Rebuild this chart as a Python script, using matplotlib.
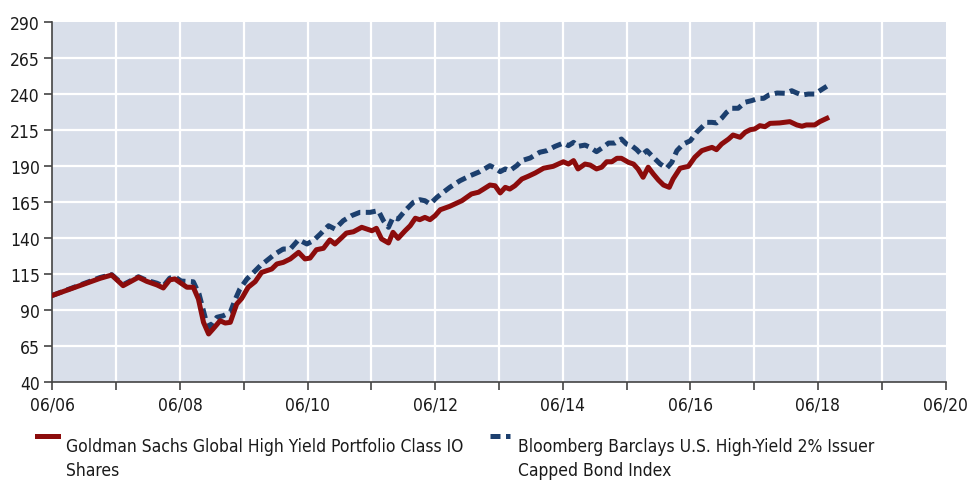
import matplotlib
matplotlib.use("Agg")
import matplotlib.pyplot as plt
from matplotlib.lines import Line2D

plt.rcParams['font.family'] = ['DejaVu Sans']
plt.rcParams['font.stretch'] = 'condensed'

# years since 06/2006
gs_t = [0.00, 0.75, 0.93, 1.11, 1.35, 1.48, 1.64, 1.74, 1.84, 1.92, 2.11, 2.21, 2.29, 2.37,
        2.45, 2.52, 2.63, 2.71, 2.79, 2.89, 2.97, 3.07, 3.18, 3.28, 3.36, 3.44, 3.52, 3.62,
        3.73, 3.86, 3.96, 4.04, 4.14, 4.25, 4.35, 4.43, 4.54, 4.61, 4.72, 4.85, 5.01, 5.08,
        5.16, 5.27, 5.34, 5.42, 5.53, 5.61, 5.69, 5.76, 5.84, 5.92, 6.00, 6.08, 6.23, 6.42,
        6.57, 6.68, 6.76, 6.86, 6.94, 7.02, 7.10, 7.17, 7.25, 7.36, 7.46, 7.57, 7.70, 7.85,
        7.93, 8.01, 8.09, 8.17, 8.24, 8.35, 8.43, 8.53, 8.61, 8.69, 8.77, 8.85, 8.92, 9.03,
        9.11, 9.18, 9.26, 9.34, 9.42, 9.50, 9.58, 9.67, 9.73, 9.84, 9.97, 10.07, 10.18, 10.26,
        10.34, 10.41, 10.49, 10.60, 10.67, 10.78, 10.86, 10.94, 11.01, 11.09, 11.17, 11.25,
        11.40, 11.56, 11.67, 11.75, 11.82, 11.95, 12.03, 12.14]
gs_v = [100, 111.9, 114.2, 106.8, 112.6, 109.8, 107.3, 105.2, 110.8, 111.5, 105.7, 105.7, 97.5, 81.3,
        73.2, 76.7, 82.4, 80.8, 81.3, 94.0, 98.0, 105.7, 109.6, 116.0, 117.2, 118.4, 121.9, 123.0,
        125.4, 130.0, 125.4, 126.0, 131.8, 132.8, 138.6, 135.8, 140.4, 143.4, 144.3, 147.4, 145.0, 146.7,
        139.3, 136.5, 143.9, 139.7, 145.0, 148.5, 153.7, 152.7, 154.3, 152.7, 155.5, 159.6, 162.0, 165.9,
        170.6, 171.8, 174.0, 176.8, 176.3, 171.3, 175.2, 174.0, 176.3, 181.0, 182.9, 185.2, 188.5, 189.8,
        191.4, 193.0, 191.4, 193.8, 188.0, 191.4, 190.7, 188.0, 189.2, 193.0, 193.0, 195.4, 195.4, 192.6,
        191.4, 188.0, 182.2, 189.2, 184.5, 180.3, 176.8, 175.2, 181.0, 188.5, 189.8, 196.1, 200.7, 201.9,
        203.0, 201.4, 205.3, 208.8, 211.6, 210.0, 213.5, 215.3, 215.8, 218.1, 217.4, 219.7,
        220.0, 220.9, 218.6, 217.7, 218.6, 218.6, 220.9, 223.2]

bb_t = [0.00, 0.75, 0.93, 1.11, 1.35, 1.48, 1.64, 1.74, 1.84, 1.92, 2.02, 2.21, 2.30, 2.40,
        2.47, 2.58, 2.68, 2.79, 2.87, 2.94, 3.05, 3.13, 3.26, 3.36, 3.49, 3.62, 3.73, 3.86,
        3.99, 4.09, 4.20, 4.25, 4.33, 4.43, 4.56, 4.69, 4.82, 4.98, 5.11, 5.19, 5.27, 5.34,
        5.42, 5.53, 5.66, 5.76, 5.84, 5.92, 6.03, 6.13, 6.23, 6.39, 6.55, 6.70, 6.86, 6.94,
        7.02, 7.10, 7.17, 7.28, 7.36, 7.49, 7.64, 7.75, 7.88, 8.01, 8.09, 8.17, 8.24, 8.35,
        8.43, 8.53, 8.61, 8.72, 8.82, 8.92, 9.00, 9.08, 9.16, 9.24, 9.32, 9.42, 9.53, 9.63,
        9.71, 9.79, 9.89, 10.00, 10.10, 10.18, 10.26, 10.34, 10.41, 10.49, 10.57, 10.65, 10.75,
        10.86, 10.96, 11.07, 11.15, 11.23, 11.36, 11.49, 11.59, 11.67, 11.75, 11.85, 11.95,
        12.03, 12.14]
bb_v = [100, 112.5, 114.5, 107.5, 113.0, 110.5, 108.5, 106.5, 112.0, 113.0, 110.0, 109.5, 101.0, 84.0,
        77.8, 84.8, 85.9, 88.3, 97.5, 104.5, 111.4, 114.9, 120.7, 124.2, 128.8, 132.3, 132.3, 138.8,
        135.8, 138.1, 142.7, 145.0, 148.5, 146.2, 152.0, 155.5, 157.8, 157.8, 159.0, 152.0, 147.4, 154.3,
        153.2, 159.0, 164.8, 166.6, 165.9, 163.6, 168.3, 171.8, 175.2, 179.8, 183.3, 186.1, 190.3, 188.5,
        186.1, 188.0, 186.8, 190.3, 193.8, 195.6, 199.6, 200.7, 203.7, 206.0, 204.2, 206.5, 203.7, 204.6,
        203.0, 200.0, 202.4, 206.0, 206.0, 208.8, 205.3, 204.2, 201.4, 197.7, 200.7, 196.1, 191.4, 188.5,
        192.6, 200.7, 205.3, 207.6, 213.5, 217.0, 220.4, 220.4, 220.0, 223.2, 227.4, 230.2, 230.2,
        234.4, 235.5, 237.1, 237.1, 239.4, 240.8, 240.6, 242.4, 240.8, 239.4, 240.1, 240.1,
        242.4, 245.5]

x_ticks = [0, 2, 4, 6, 8, 10, 12, 14]
x_labels = ['06/06', '06/08', '06/10', '06/12', '06/14', '06/16', '06/18', '06/20']
y_ticks = [40, 65, 90, 115, 140, 165, 190, 215, 240, 265, 290]

gs_name = 'Goldman Sachs Global High Yield Portfolio Class IO\nShares'
bb_name = 'Bloomberg Barclays U.S. High-Yield 2% Issuer\nCapped Bond Index'

red = '#8c0c0c'
blue = '#1c3f6e'
ink = '#1a1a1a'

fig = plt.figure(figsize=(9.67, 4.81), dpi=100)
ax = fig.add_axes([52.3 / 967, 1 - 382.7 / 481, (945.5 - 52.3) / 967, (382.7 - 23.3) / 481])
ax.set_facecolor('#d9dfea')

ax.plot(gs_t, gs_v, color=red, lw=3.6, solid_joinstyle='round', zorder=3)
ax.plot(bb_t, bb_v, color=blue, lw=3.6, dashes=(2.0, 1.1), zorder=2)

ax.set_xlim(0, 14)
ax.set_ylim(40, 290)
ax.set_xticks(x_ticks)
ax.set_xticklabels(x_labels)
ax.set_xticks(range(1, 14, 2), minor=True)
ax.set_yticks(y_ticks)

for v in range(1, 14):
    ax.axvline(v, color='white', lw=1.6, zorder=1)
for v in y_ticks[1:-1]:
    ax.axhline(v, color='white', lw=1.6, zorder=1)

for s in ['top', 'right']:
    ax.spines[s].set_visible(False)
for s in ['left', 'bottom']:
    ax.spines[s].set_color('#444444')
    ax.spines[s].set_linewidth(1.2)

ax.tick_params(axis='both', which='both', direction='out', length=6, width=1.2,
               color='#444444', labelsize=12.5, labelcolor=ink)
ax.tick_params(axis='x', pad=4)
ax.tick_params(axis='y', pad=3)

# legend
fig.add_artist(Line2D([37 / 967, 58 / 967], [1 - 437 / 481] * 2, color=red, lw=3.6))
fig.add_artist(Line2D([490 / 967, 510 / 967], [1 - 437 / 481] * 2, color=blue, lw=3.6,
                      dashes=(2.0, 1.1)))
fig.text(66 / 967, 1 - 438 / 481, gs_name, fontsize=12.5, color=ink,
         va='top', ha='left', linespacing=1.45)
fig.text(518 / 967, 1 - 438 / 481, bb_name, fontsize=12.5, color=ink,
         va='top', ha='left', linespacing=1.45)

fig.savefig('out.png', dpi=100)
